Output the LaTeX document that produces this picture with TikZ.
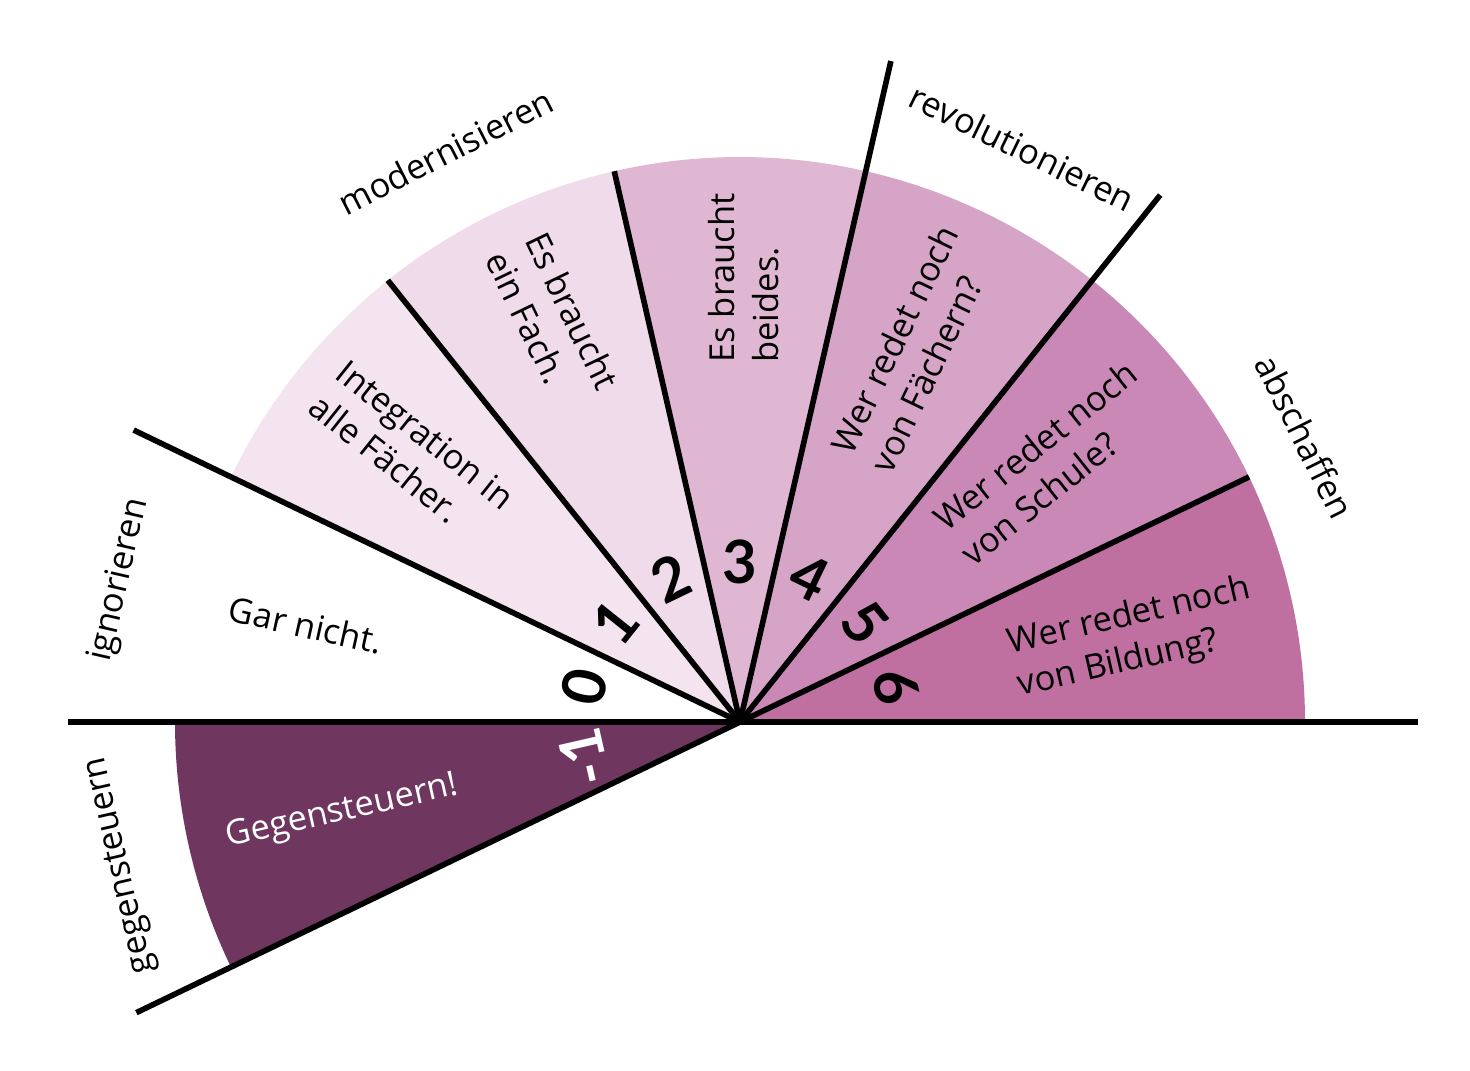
\documentclass[tikz,border=0pt]{standalone}
\usepackage{fontspec}
\setmainfont{Open Sans}
\newfontfamily\ziffern{Lato}

\definecolor{stufeM}{HTML}{6F365F}
\definecolor{stufeA}{HTML}{F4E4EF}
\definecolor{stufeB}{HTML}{EFDBE9}
\definecolor{stufeC}{HTML}{E0B7D2}
\definecolor{stufeD}{HTML}{D6A4C6}
\definecolor{stufeE}{HTML}{C988B5}
\definecolor{stufeF}{HTML}{C070A0}

\begin{document}
\begin{tikzpicture}[
    every node/.style={font=\fontsize{9.8}{12.5}\selectfont},
    satz/.style={align=left},
    ziffer/.style={font=\ziffern\bfseries\fontsize{17}{17}\selectfont},
    strahl/.style={line width=1.6pt},
]
    \useasboundingbox (-7.40,-3.48) rectangle (7.30,7.22);
    \coordinate (m) at (0,0);
    \foreach \k/\farbe in {-1/stufeM,1/stufeA,2/stufeB,3/stufeC,4/stufeD,5/stufeE,6/stufeF}
        \fill[\farbe] (m) -- ({180-\k*180/7}:5.65)
            arc[start angle={180-\k*180/7}, end angle={180-(\k+1)*180/7}, radius=5.65] -- cycle;
    \coordinate (links) at (180:6.72);
    \coordinate (rechts) at (0:6.78);
    \draw[strahl] (links) -- (rechts);
    \foreach \w/\r in {205.71/6.7,154.29/6.73,128.57/5.65,102.86/5.65,77.14/6.78,51.43/6.74,25.71/5.65}
        \draw[strahl] (m) -- (\w:\r);

    \node[rotate=77.1] (ignorieren) at (167.1:6.36) {ignorieren};
    \node[rotate=27] (modernisieren) at (117.3:6.42) {modernisieren};
    \node[rotate=-26] (revolutionieren) at (63.8:6.4) {revolutionieren};
    \node[rotate=-63.5] (abschaffen) at (26.8:6.33) {abschaffen};
    \node[rotate=102.9] (gegensteuern) at (193:6.35) {gegensteuern};

    \node[satz, rotate=-12.6] (garnicht) at (167.4:4.45) {Gar nicht.};
    \node[satz, rotate=-38.6] (integration) at (140.5:4.25) {Integration in\\alle Fächer.};
    \node[satz, rotate=-64.3] (einfach) at (115:4.43) {Es braucht\\ein Fach.};
    \node[satz, rotate=90] (beides) at (89.5:4.44) {Es braucht\\beides.};
    \node[satz, rotate=64.3] (faechern) at (65:4.12) {Wer redet noch\\von Fächern?};
    \node[satz, rotate=38.6] (schule) at (40:4.03) {Wer redet noch\\von Schule?};
    \node[satz, rotate=12.9] (bildung) at (12:4.03) {Wer redet noch\\von Bildung?};
    \node[satz, rotate=12.9, text=white] (gegen) at (192.8:4.08) {Gegensteuern!};

    \foreach \k/\name/\farbe in {-1/zm/white,0/z0/black,1/z1/black,2/z2/black,3/z3/black,4/z4/black,5/z5/black,6/z6/black}
        \node[ziffer, text=\farbe, rotate={90-(\k+0.5)*180/7}] (\name) at ({180-(\k+0.5)*180/7}:1.6) {\k};
\end{tikzpicture}
\end{document}
